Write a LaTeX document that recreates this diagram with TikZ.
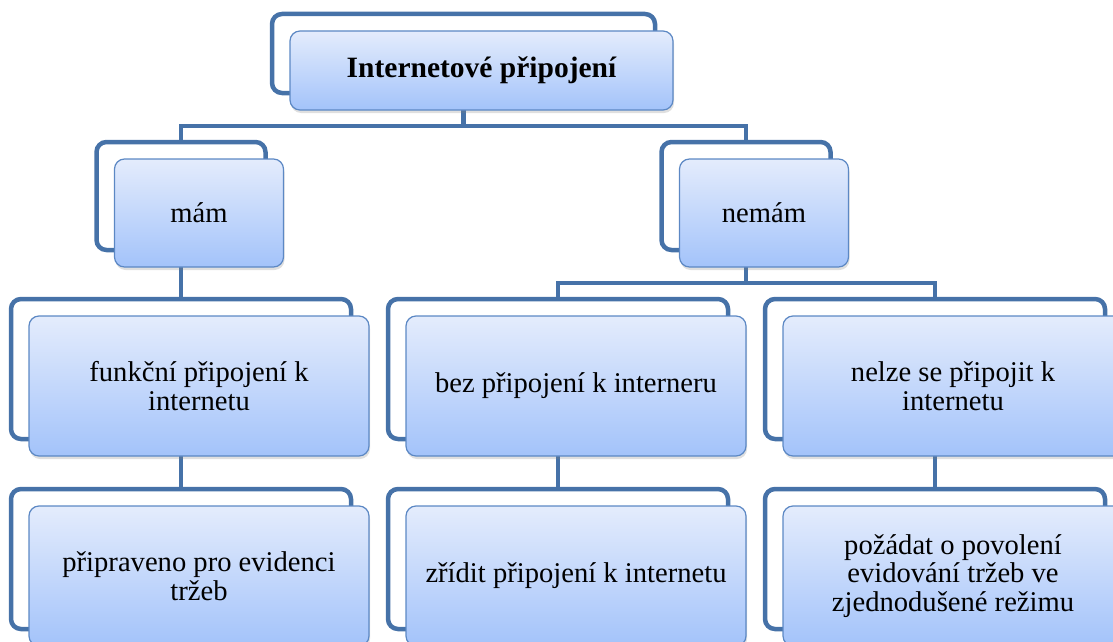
\documentclass[tikz,border=0pt]{standalone}
\usepackage{fontspec}
\setmainfont{Liberation Serif}
\usetikzlibrary{positioning,shadows,backgrounds}
\definecolor{linkblue}{RGB}{70,114,168}
\definecolor{rimblue}{RGB}{92,136,196}
\definecolor{topblue}{RGB}{228,236,252}
\definecolor{lowblue}{RGB}{163,195,250}

\begin{document}
\begin{tikzpicture}[x=1pt,y=-1pt,
        front/.style={draw=rimblue,line width=1.2pt,rounded corners=10pt,top color=topblue,bottom color=lowblue,
                align=center,inner sep=0pt,font=\fontsize{28.6}{28.5}\selectfont,
                drop shadow={shadow xshift=1pt,shadow yshift=-3pt,opacity=.25}},
        back/.style={draw=linkblue,line width=4.5pt,rounded corners=10pt,inner sep=0pt},
        link/.style={draw=linkblue,line width=4.5pt},
        toprow/.style={minimum width=383pt,minimum height=79pt},
        midrow/.style={minimum width=169pt,minimum height=108pt},
        lowrow/.style={minimum width=340pt,minimum height=140pt}]
        \clip (0,0) rectangle (1113,642);
        %\draw[help lines] (0,0) grid[step=50] (1113,642);
        \node[front,toprow,font=\fontsize{29.5}{29}\selectfont\bfseries] (root) at (481.5,70.5) {Internetové připojení};
        \node[front,midrow] (mam) at (199,213) {mám};
        \node[front,midrow] (nemam) at (764,213) {nemám};
        \node[front,lowrow] (funkcni) at (199,386) {funkční připojení k\\internetu};
        \node[front,lowrow] (bez) at (576,386) {bez připojení k interneru};
        \node[front,lowrow] (nelze) at (953,386) {nelze se připojit k\\internetu};
        \node[front,lowrow] (pripraveno) at (199,576) {připraveno pro evidenci\\tržeb};
        \node[front,lowrow] (zridit) at (576,576) {zřídit připojení k internetu};
        \node[front,lowrow] (pozadat) at (953,576) {požádat o povolení\\evidování tržeb ve\\zjednodušené režimu};
        \begin{scope}[on background layer]
        \node[back,toprow] (rootb) at ([shift={(-18,-17)}]root.center) {};
        \foreach \n/\r in {mam/midrow,nemam/midrow,funkcni/lowrow,bez/lowrow,nelze/lowrow,
                pripraveno/lowrow,zridit/lowrow,pozadat/lowrow}
                \node[back,\r] (\n b) at ([shift={(-18,-17)}]\n.center) {};
        \coordinate (bus) at (0,126);
        \coordinate (subbus) at (0,283);
        \draw[link] (rootb.south) -- (rootb.south |- bus);
        \draw[link] (mamb.north) |- (rootb.south |- bus) -| (nemamb.north);
        \draw[link] (nemamb.south) -- (nemamb.south |- subbus);
        \draw[link] (bezb.north) |- (nemamb.south |- subbus) -| (nelzeb.north);
        \draw[link] (mamb.south) -- (funkcnib.north);
        \draw[link] (funkcnib.south) -- (pripravenob.north);
        \draw[link] (bezb.south) -- (zriditb.north);
        \draw[link] (nelzeb.south) -- (pozadatb.north);
        \end{scope}
\end{tikzpicture}
\end{document}
